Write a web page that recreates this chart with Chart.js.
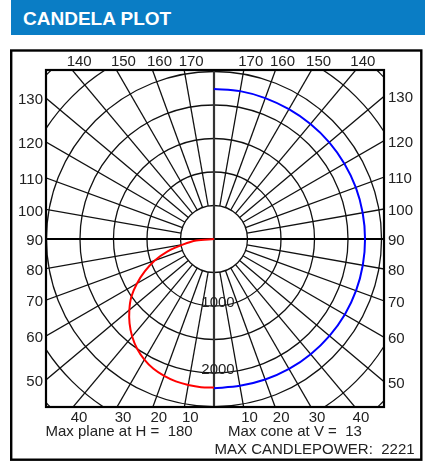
<!DOCTYPE html>
<html>
<head>
<meta charset="utf-8">
<script src="https://cdn.jsdelivr.net/npm/chart.js@4"></script>
<style>
html,body{margin:0;padding:0;background:#fff;}
#wrap{position:relative;width:425px;height:464px;overflow:hidden;}
#hdr{position:absolute;left:11px;top:0;width:414px;height:35px;box-sizing:border-box;padding:1px 0 0 12px;background:#0a7dc5;color:#fff;font:bold 19px "Liberation Sans",Arial,sans-serif;line-height:35px;white-space:nowrap;}
canvas{position:absolute;left:0;top:0;}
</style>
</head>
<body>
<div id="wrap">
<canvas id="c" width="425" height="464"></canvas>
<div id="hdr">CANDELA PLOT</div>
</div>
<script>
// ---- data ----
const redAngles   = [0,5,10,15,20,25,30,35,40,45,50,55,60,65,70,75,80,85,90];
const redCandela  = [2215,2219,2212,2200,2174,2137,2078,2000,1900,1782,1649,1507,1327,1137,945,722,465,267,0];
const blueAngles  = [0,10,20,30,40,50,60,70,80,90,100,110,120,130,140,150,160,170,180];
const blueCandela = [2228,2225,2232,2240,2245,2250,2255,2256,2255,2254,2253,2252,2248,2245,2240,2236,2238,2241,2239];
const gridRings   = [500,1000,1500,2000,2500,3000,3500];
const ringLabels  = [1000,2000];
const spokeAngles = [10,20,30,40,50,60,70,80,90,100,110,120,130,140,150,160,170];
const angleLabels = ["10","20","30","40","50","60","70","80","90","100","110","120","130","140","150","160","170"];
const infoLines   = ["Max plane at H =  180","Max cone at V =  13","MAX CANDLEPOWER:  2221"];
const xRange = [-2507, 2537];
const yRange = [-2507, 2522];

const rad = d => d*Math.PI/180;
const redPts  = redAngles.map((a,i)=>({x:-redCandela[i]*Math.sin(rad(a)), y:-redCandela[i]*Math.cos(rad(a))}));
const bluePts = blueAngles.map((a,i)=>({x: blueCandela[i]*Math.sin(rad(a)), y:-blueCandela[i]*Math.cos(rad(a))}));

const FONT = '15px "Liberation Sans", Arial, sans-serif';
const TXT = '#222';

const polarGrid = {
  id:'polarGrid',
  beforeDatasetsDraw(chart){
    const ctx = chart.ctx, xs = chart.scales.x, ys = chart.scales.y;
    const cx = xs.getPixelForValue(0), cy = ys.getPixelForValue(0);
    const ppu = (xs.getPixelForValue(1000)-cx)/1000;
    const {left,right,top,bottom} = chart.chartArea;
    ctx.save();
    ctx.beginPath(); ctx.rect(left,top,right-left,bottom-top); ctx.clip();
    ctx.strokeStyle = '#111'; ctx.lineWidth = 1.3;
    gridRings.forEach(r=>{ ctx.beginPath(); ctx.arc(cx,cy,r*ppu,0,Math.PI*2); ctx.stroke(); });
    const hub = gridRings[0]*ppu;
    spokeAngles.forEach(a=>{
      [-1,1].forEach(s=>{
        const dx = s*Math.sin(rad(a)), dy = Math.cos(rad(a));
        ctx.beginPath(); ctx.moveTo(cx+dx*hub, cy+dy*hub); ctx.lineTo(cx+dx*600, cy+dy*600); ctx.stroke();
      });
    });
    ctx.lineWidth = 2.2; ctx.strokeStyle = '#000';
    ctx.beginPath(); ctx.moveTo(left,cy); ctx.lineTo(right,cy); ctx.stroke();
    ctx.strokeStyle = '#333';
    ctx.beginPath(); ctx.moveTo(cx,top); ctx.lineTo(cx,bottom); ctx.stroke();
    ctx.restore();
  },
  afterDraw(chart){
    const ctx = chart.ctx, xs = chart.scales.x, ys = chart.scales.y;
    const cx = xs.getPixelForValue(0), cy = ys.getPixelForValue(0);
    const ppu = (xs.getPixelForValue(1000)-cx)/1000;
    const {left,right,top,bottom} = chart.chartArea;
    ctx.save();
    // plot border
    ctx.strokeStyle = '#000'; ctx.lineWidth = 2.2;
    ctx.strokeRect(left,top,right-left,bottom-top);
    // outer frame
    ctx.lineWidth = 2.4;
    ctx.strokeRect(11.2,50.5,410.1,409.2);
    ctx.font = FONT; ctx.fillStyle = TXT; ctx.textBaseline = 'middle';
    // angle labels
    spokeAngles.forEach((a,i)=>{
      [-1,1].forEach(s=>{
        const dx = s*Math.sin(rad(a)), dy = Math.cos(rad(a));
        const xe = s>0 ? right : left;
        const t = (xe-cx)/dx, yh = cy + t*dy;
        if (yh>=top-0.5 && yh<=bottom+0.5){
          ctx.textAlign = s>0 ? 'left' : 'right';
          ctx.fillText(angleLabels[i], s>0 ? right+4 : left-3, yh+2);
        } else {
          const ye = dy>0 ? bottom : top;
          const t2 = (ye-cy)/dy, xh = cx + t2*dx;
          ctx.textAlign = 'center';
          if (dy>0) ctx.fillText(angleLabels[i], xh+6, bottom+10.5);
          else ctx.fillText(angleLabels[i], xh+7, top-8);
        }
      });
    });
    // ring labels
    ctx.textAlign = 'center';
    ringLabels.forEach(v=>{ ctx.fillText(String(v), cx+4, cy+v*ppu-3); });
    // info lines
    ctx.textAlign = 'left';
    ctx.fillText(infoLines[0], left-0.5, 432);
    ctx.fillText(infoLines[1], 228, 432);
    ctx.fillText(infoLines[2], 214.5, 449.5);
    ctx.restore();
  }
};

new Chart(document.getElementById('c'), {
  type:'scatter',
  data:{datasets:[
    {label:'Max plane at H = 180', data:redPts, showLine:true, borderColor:'#ff0000', borderWidth:2, tension:0.3, pointRadius:0, fill:false},
    {label:'Max cone at V = 13', data:bluePts, showLine:true, borderColor:'#0000ff', borderWidth:2, tension:0.3, pointRadius:0, fill:false}
  ]},
  options:{
    responsive:false, animation:false, devicePixelRatio:1,
    layout:{padding:{left:46,right:41,top:70,bottom:57}},
    scales:{
      x:{type:'linear', min:xRange[0], max:xRange[1], display:false},
      y:{type:'linear', min:yRange[0], max:yRange[1], display:false}
    },
    plugins:{legend:{display:false}, tooltip:{enabled:false}, title:{display:false}}
  },
  plugins:[polarGrid]
});
</script>
</body>
</html>
